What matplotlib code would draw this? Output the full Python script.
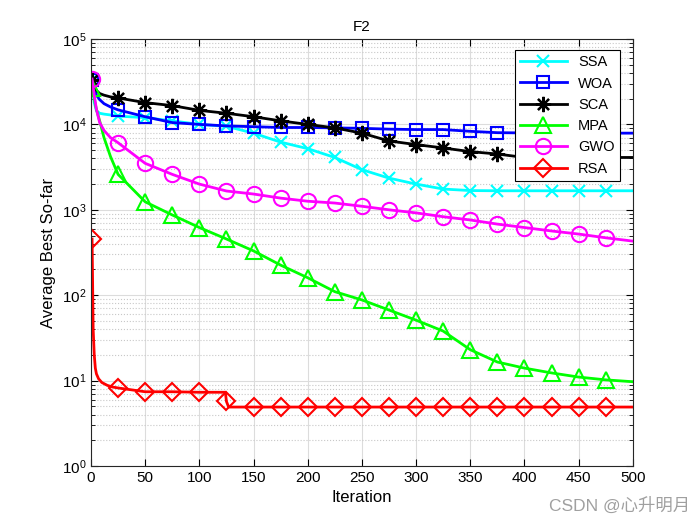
import numpy as np
import matplotlib.pyplot as plt

plt.rcParams['font.family'] = ['Liberation Sans', 'DejaVu Sans']
plt.rcParams['mathtext.fontset'] = 'custom'
plt.rcParams['mathtext.rm'] = 'Liberation Sans'

it = [1, 3, 5, 8, 12, 18, 25, 50, 75, 100, 125, 150, 175, 200, 225, 250,
      275, 300, 325, 350, 375, 400, 425, 450, 475, 500]

ssa = [33000, 18000, 14500, 13500, 13200, 12900, 12500, 12000, 11000, 10000, 9500,
       7900, 6200, 5200, 4100, 2950, 2350, 2000, 1750, 1680, 1670, 1670, 1670, 1670, 1670, 1670]
woa = [33000, 26000, 22000, 19500, 17500, 16000, 14800, 12300, 10500, 10000, 9600,
       9400, 9200, 9200, 9100, 9000, 8800, 8700, 8700, 8300, 8000, 7950, 7900, 7900, 7900, 7900]
sca = [33000, 28000, 25000, 23000, 22000, 21000, 20400, 18000, 16600, 14600, 13500,
       12300, 11000, 10000, 9100, 7900, 6400, 5800, 5300, 4800, 4500, 4100, 4100, 4100, 4100, 4100]
mpa = [27000, 20000, 15000, 11000, 7000, 4200, 2600, 1240, 870, 620, 455,
       330, 225, 160, 110, 88, 67, 51, 38, 23, 16.5, 14, 12.3, 11, 10.2, 9.7]
gwo = [34000, 22000, 15000, 10500, 8500, 7000, 6100, 3500, 2600, 2000, 1660,
       1530, 1370, 1260, 1200, 1100, 1000, 920, 830, 760, 680, 620, 565, 520, 470, 430]

it_rsa = [1, 2, 3, 4, 5, 7, 10, 15, 20, 25, 50, 75, 100, 124, 125, 127, 150, 175,
          200, 225, 250, 275, 300, 325, 350, 375, 400, 425, 450, 475, 500]
rsa = [455, 40, 20, 14, 12, 10.5, 9.5, 8.8, 8.4, 8.2, 7.4, 7.4, 7.3, 7.3, 5.7, 4.9,
       4.9, 4.9, 4.9, 4.9, 4.9, 4.9, 4.9, 4.9, 4.9, 4.9, 4.9, 4.9, 4.9, 4.9, 4.9]

marks = [1] + list(range(25, 500, 25))
me = [i for i, v in enumerate(it) if v in marks]
me_rsa = [i for i, v in enumerate(it_rsa) if v in marks]

fig = plt.figure(figsize=(7, 5.25), dpi=100)
ax = fig.add_axes([0.13, 0.1124, 0.774, 0.8133])

ax.semilogy(it, ssa, color='#00FFFF', lw=2, marker='x', ms=8, mew=1.5, markevery=me, label='SSA')
ax.semilogy(it, woa, color='#0000FF', lw=2, marker='s', ms=9, mew=1.5, mfc='none', markevery=me, label='WOA')
ax.semilogy(it, sca, color='k', lw=2, marker=(8, 2, 0), ms=11, mew=1.6, markevery=me, label='SCA')
ax.semilogy(it, mpa, color='#00FF00', lw=2, marker='^', ms=11, mew=1.5, mfc='none', markevery=me, label='MPA')
ax.semilogy(it, gwo, color='#FF00FF', lw=2, marker='o', ms=11, mew=1.5, mfc='none', markevery=me, label='GWO')
ax.semilogy(it_rsa, rsa, color='#FF0000', lw=2, marker='D', ms=9, mew=1.5, mfc='none', markevery=me_rsa, label='RSA')

ax.set_xlim(0, 500)
ax.set_ylim(1, 1e5)
ax.set_xticks(np.arange(0, 501, 50))
ax.tick_params(which='both', direction='in', top=True, right=True, labelsize=11)
ax.tick_params(which='major', length=5)
ax.tick_params(which='minor', length=3)
ax.grid(which='major', color='#DCDCDC', linewidth=0.8)
ax.grid(which='minor', axis='y', color='#C8C8C8', linestyle=':', linewidth=0.8)
for s in ax.spines.values():
    s.set_color('#262626')

ax.set_title('F2', fontsize=11)
ax.set_xlabel('Iteration', fontsize=12)
ax.set_ylabel('Average Best So-far', fontsize=12)

leg = ax.legend(loc='upper right', bbox_to_anchor=(0.976, 0.974), borderaxespad=0, fancybox=False,
                edgecolor='k', framealpha=1, fontsize=10.5, handlelength=3.2, borderpad=0.35,
                labelspacing=0.5)
leg.get_frame().set_linewidth(0.8)

fig.text(0.986, 0.022, 'CSDN @心升明月', ha='right', va='bottom', fontsize=12.5, color='#a0a0a0',
         family=['Liberation Sans', 'Noto Sans CJK SC'])

fig.savefig('out.png')
